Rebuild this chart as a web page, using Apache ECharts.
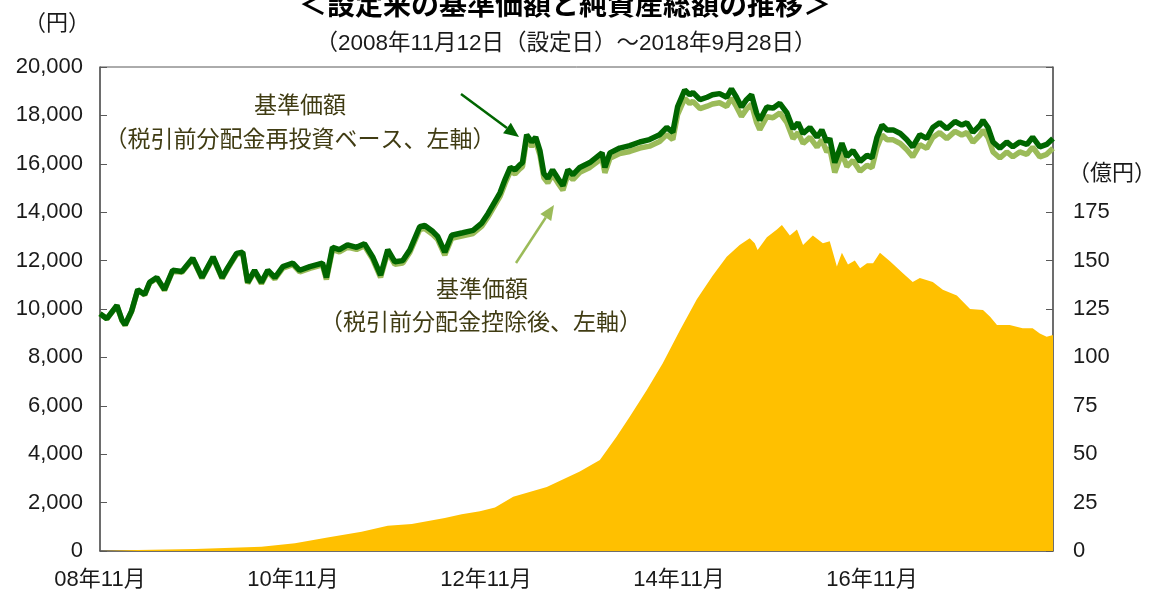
<!DOCTYPE html>
<html>
<head>
<meta charset="utf-8">
<title>設定来の基準価額と純資産総額の推移</title>
<script src="https://cdn.jsdelivr.net/npm/echarts@6/dist/echarts.min.js"></script>
<style>
html, body { margin: 0; padding: 0; background: #fff; }
#main { width: 1154px; height: 592px; }
</style>
</head>
<body>
<div id="main"></div>
<script>
// 設定日
var startDate = '2008-11-12';

// x軸ラベル（2年ごと）
var xTickLabels = ['08年11月', '10年11月', '12年11月', '14年11月', '16年11月'];

// 基準価額の日付
var navDates = [
    '2008-11-12', '2008-11-18', '2008-12-08', '2009-01-15', '2009-02-03', '2009-02-15', '2009-03-11', '2009-04-04',
    '2009-04-30', '2009-05-19', '2009-06-15', '2009-07-14', '2009-08-14', '2009-09-18', '2009-10-29', '2009-12-03',
    '2010-01-14', '2010-02-17', '2010-03-10', '2010-04-13', '2010-05-06', '2010-05-25', '2010-06-20', '2010-07-16',
    '2010-08-09', '2010-09-05', '2010-10-05', '2010-11-12', '2010-12-08', '2011-01-15', '2011-03-04', '2011-03-19',
    '2011-04-11', '2011-05-07', '2011-06-07', '2011-07-11', '2011-08-10', '2011-09-10', '2011-10-10', '2011-11-06',
    '2011-12-03', '2012-01-02', '2012-01-29', '2012-03-06', '2012-03-25', '2012-04-25', '2012-05-13', '2012-06-09',
    '2012-07-05', '2012-08-16', '2012-09-24', '2012-10-27', '2012-11-20', '2013-01-04', '2013-01-23', '2013-02-12',
    '2013-03-02', '2013-03-19', '2013-03-30', '2013-04-15', '2013-05-04', '2013-05-19', '2013-06-04', '2013-06-19',
    '2013-07-04', '2013-07-22', '2013-08-11', '2013-08-30', '2013-09-18', '2013-10-07', '2013-11-02', '2013-12-10',
    '2014-01-25', '2014-02-05', '2014-02-24', '2014-04-02', '2014-05-10', '2014-06-17', '2014-07-24', '2014-08-31',
    '2014-09-27', '2014-10-20', '2014-11-07', '2014-12-04', '2014-12-23', '2015-01-04', '2015-01-31', '2015-02-27',
    '2015-03-19', '2015-04-15', '2015-05-12', '2015-05-30', '2015-06-18', '2015-07-07', '2015-07-26', '2015-08-14',
    '2015-09-02', '2015-09-14', '2015-10-11', '2015-11-03', '2015-11-29', '2015-12-26', '2016-01-18', '2016-02-06',
    '2016-02-25', '2016-03-22', '2016-04-18', '2016-05-06', '2016-05-25', '2016-06-05', '2016-06-24', '2016-07-21',
    '2016-08-09', '2016-09-01', '2016-09-28', '2016-10-24', '2016-11-12', '2016-12-01', '2016-12-20', '2017-01-08',
    '2017-01-31', '2017-02-27', '2017-03-23', '2017-04-15', '2017-05-12', '2017-06-07', '2017-06-30', '2017-07-26',
    '2017-08-22', '2017-09-22', '2017-10-18', '2017-11-06', '2017-11-29', '2017-12-26', '2018-01-06', '2018-01-25',
    '2018-02-13', '2018-03-11', '2018-04-06', '2018-04-29', '2018-05-25', '2018-06-21', '2018-07-13', '2018-08-09',
    '2018-09-04', '2018-09-28'
];

// 基準価額（税引前分配金再投資ベース）
var navReinvest = [
    9800, 9750, 9600, 10150, 9550, 9350, 9900, 10800,
    10600, 11100, 11300, 10800, 11600, 11550, 12100, 11300,
    12150, 11300, 11700, 12300, 12350, 11100, 11600, 11100,
    11600, 11300, 11750, 11900, 11600, 11750, 11900, 11300,
    12550, 12450, 12650, 12550, 12700, 12150, 11400, 12450,
    11950, 12000, 12450, 13400, 13450, 13200, 13000, 12350,
    13050, 13150, 13250, 13550, 13950, 14800, 15350, 15850,
    15750, 15950, 16050, 17200, 16900, 17100, 16550, 15600,
    15400, 15750, 15400, 15100, 15750, 15550, 15850, 16050,
    16450, 15850, 16450, 16650, 16750, 16900, 17000, 17200,
    17500, 17300, 18350, 19050, 18850, 18950, 18650, 18750,
    18850, 18900, 18750, 19100, 18750, 18350, 18650, 18850,
    18100, 17800, 18350, 18300, 18500, 18100, 17450, 17700,
    17250, 17500, 17100, 17400, 16900, 17050, 16050, 16850,
    16300, 16550, 16100, 16350, 16250, 17100, 17600, 17400,
    17400, 17250, 17000, 16700, 17200, 17050, 17500, 17700,
    17450, 17750, 17600, 17700, 17300, 17600, 17800, 17500,
    16900, 16650, 16900, 16700, 16900, 16800, 17100, 16700,
    16800, 17050
];

// 基準価額（税引前分配金控除後）
var navAfterDist = [
    9800, 9750, 9600, 10130, 9530, 9330, 9880, 10780,
    10580, 11080, 11270, 10770, 11570, 11520, 12070, 11270,
    12110, 11260, 11660, 12260, 12310, 11060, 11550, 11050,
    11540, 11240, 11690, 11830, 11530, 11680, 11820, 11220,
    12460, 12360, 12560, 12460, 12610, 12060, 11310, 12350,
    11850, 11900, 12350, 13280, 13330, 13080, 12880, 12230,
    12920, 13020, 13120, 13420, 13810, 14650, 15190, 15690,
    15590, 15780, 15880, 17030, 16720, 16920, 16370, 15420,
    15210, 15560, 15210, 14910, 15560, 15350, 15650, 15850,
    16230, 15630, 16230, 16420, 16510, 16650, 16730, 16920,
    17210, 17000, 18030, 18700, 18490, 18580, 18280, 18380,
    18470, 18520, 18370, 18710, 18360, 17960, 18260, 18460,
    17710, 17410, 17950, 17900, 18100, 17700, 17040, 17290,
    16840, 17090, 16690, 16990, 16490, 16640, 15640, 16440,
    15890, 16140, 15690, 15940, 15840, 16690, 17190, 16990,
    16990, 16840, 16590, 16290, 16790, 16640, 17090, 17290,
    17040, 17340, 17190, 17290, 16890, 17190, 17390, 17090,
    16490, 16240, 16490, 16290, 16490, 16390, 16690, 16290,
    16390, 16640
];

// 純資産総額の日付
var assetDates = [
    '2008-11-12', '2009-04-04', '2009-11-06', '2010-07-16', '2010-11-20', '2011-03-23', '2011-07-30', '2011-11-06',
    '2012-02-05', '2012-06-09', '2012-08-12', '2012-10-20', '2012-12-16', '2013-02-23', '2013-06-30', '2013-11-02',
    '2014-01-17', '2014-03-21', '2014-05-10', '2014-07-13', '2014-09-12', '2014-11-16', '2015-01-19', '2015-03-19',
    '2015-05-12', '2015-06-30', '2015-08-07', '2015-08-26', '2015-09-06', '2015-10-11', '2015-11-18', '2015-12-07',
    '2016-01-06', '2016-02-02', '2016-02-25', '2016-04-02', '2016-05-10', '2016-06-05', '2016-07-02', '2016-07-21',
    '2016-08-13', '2016-09-08', '2016-09-28', '2016-10-24', '2016-11-16', '2016-12-12', '2017-01-20', '2017-03-09',
    '2017-04-15', '2017-05-12', '2017-06-30', '2017-08-07', '2017-09-29', '2017-11-18', '2018-01-06', '2018-02-02',
    '2018-02-28', '2018-04-17', '2018-06-05', '2018-07-13', '2018-08-09', '2018-09-04', '2018-09-28'
];

// 純資産総額（億円）
var netAssets = [
    0, 0.5, 1, 2.2, 4, 7, 10, 13,
    14, 17, 19, 20.5, 22.5, 28, 33, 41,
    47, 59, 69.4, 83, 97, 114, 130, 142,
    152, 158, 161.5, 159, 155.5, 162, 166, 168.4,
    163, 166, 158, 163, 159, 160, 147, 154,
    148, 150, 146, 148.6, 148.6, 154, 149.5, 143.5,
    139, 141, 139, 135, 132, 125, 124.5, 121,
    116.7, 116.7, 115, 115, 112.4, 110.7, 111.6
];

var FONT = "'Liberation Sans', 'Noto Sans CJK JP', sans-serif";
var JP = "'Noto Sans CJK JP', sans-serif";
var DAY_MS = 86400000;
var TWO_YEARS = 730.5;

function dayOf(d) {
    return (Date.parse(d) - Date.parse(startDate)) / DAY_MS;
}

function pairs(dates, vals) {
    var out = [];
    for (var i = 0; i < dates.length; i++) {
        out.push([dayOf(dates[i]), vals[i]]);
    }
    return out;
}

// 矢印（線＋三角）
function arrow(x1, y1, x2, y2, color) {
    var dx = x2 - x1, dy = y2 - y1;
    var len = Math.sqrt(dx * dx + dy * dy);
    var ux = dx / len, uy = dy / len;
    var hl = 15, hw = 6.5;
    var bx = x2 - ux * hl, by = y2 - uy * hl;
    return {
        type: 'group',
        children: [{
            type: 'line',
            shape: { x1: x1, y1: y1, x2: bx, y2: by },
            style: { stroke: color, lineWidth: 2.5 }
        }, {
            type: 'polygon',
            shape: { points: [[x2, y2], [bx - uy * hw, by + ux * hw], [bx + uy * hw, by - ux * hw]] },
            style: { fill: color }
        }]
    };
}

function label(text, x, y, size, color, opts) {
    opts = opts || {};
    return {
        type: 'text',
        x: x,
        y: y,
        style: {
            text: text,
            fontSize: size,
            fontFamily: opts.family || FONT,
            fontWeight: opts.weight || 'normal',
            fill: color,
            align: opts.align || 'center',
            verticalAlign: 'middle'
        }
    };
}

var lastDay = dayOf(navDates[navDates.length - 1]);
var axisColor = '#595959';
var textColor = '#1a1a1a';
var noteColor = '#403c13';

var chart = echarts.init(document.getElementById('main'));

chart.setOption({
    animation: false,
    backgroundColor: '#fff',
    grid: {
        left: 100,
        right: 101,
        top: 67,
        bottom: 41,
        show: true,
        borderColor: axisColor,
        borderWidth: 1
    },
    xAxis: {
        type: 'value',
        min: 0,
        max: lastDay,
        interval: TWO_YEARS,
        axisLine: { show: true, lineStyle: { color: axisColor, width: 1.5 } },
        axisTick: { show: false },
        splitLine: { show: false },
        axisLabel: {
            margin: 18,
            fontSize: 22,
            fontFamily: FONT,
            color: textColor,
            showMaxLabel: false,
            formatter: function(v) {
                var k = Math.round(v / TWO_YEARS);
                return xTickLabels[k] || '';
            }
        }
    },
    yAxis: [{
        type: 'value',
        min: 0,
        max: 20000,
        interval: 2000,
        axisLine: { show: true, lineStyle: { color: axisColor, width: 1.5 } },
        axisTick: { show: true, inside: true, length: 7, lineStyle: { color: axisColor } },
        splitLine: { show: false },
        axisLabel: {
            margin: 17,
            fontSize: 22,
            fontFamily: FONT,
            color: textColor,
            formatter: function(v) {
                return v.toLocaleString('en-US');
            }
        }
    }, {
        type: 'value',
        min: 0,
        max: 250,
        interval: 25,
        position: 'right',
        axisLine: { show: true, lineStyle: { color: axisColor, width: 1.5 } },
        axisTick: { show: true, inside: true, length: 7, lineStyle: { color: axisColor } },
        splitLine: { show: false },
        axisLabel: {
            margin: 20,
            fontSize: 22,
            fontFamily: FONT,
            color: textColor,
            formatter: function(v) {
                return v > 175 ? '' : String(v);
            }
        }
    }],
    series: [{
        name: '純資産総額',
        type: 'line',
        yAxisIndex: 1,
        symbol: 'none',
        lineStyle: { width: 0 },
        areaStyle: { color: '#FFC000', opacity: 1 },
        z: 1,
        data: pairs(assetDates, netAssets)
    }, {
        name: '基準価額（税引前分配金控除後）',
        type: 'line',
        symbol: 'none',
        lineStyle: { color: '#9BBB59', width: 5.5 },
        z: 2,
        data: pairs(navDates, navAfterDist)
    }, {
        name: '基準価額（税引前分配金再投資ベース）',
        type: 'line',
        symbol: 'none',
        lineStyle: { color: '#006600', width: 5.5 },
        z: 3,
        data: pairs(navDates, navReinvest)
    }],
    graphic: [
        label('＜設定来の基準価額と純資産総額の推移＞', 565, 4, 28, '#000', { weight: 'bold', family: JP }),
        label('（2008年11月12日（設定日）～2018年9月28日）', 566, 44, 22.5, textColor),
        label('（円）', 57, 22, 22, textColor, { family: JP }),
        label('（億円）', 1112, 172, 22, textColor, { family: JP }),
        label('基準価額', 300, 104, 23, noteColor, { family: JP }),
        label('（税引前分配金再投資ベース、左軸）', 300, 138, 23, noteColor, { family: JP }),
        label('基準価額', 482, 288, 23, noteColor, { family: JP }),
        label('（税引前分配金控除後、左軸）', 481, 321, 23, noteColor, { family: JP }),
        label('純資産総額（右軸）', 905, 478, 23, '#000', { family: JP }),
        arrow(461, 94, 519, 137, '#006600'),
        arrow(516, 263, 554, 205, '#9BBB59')
    ]
});
</script>
</body>
</html>
